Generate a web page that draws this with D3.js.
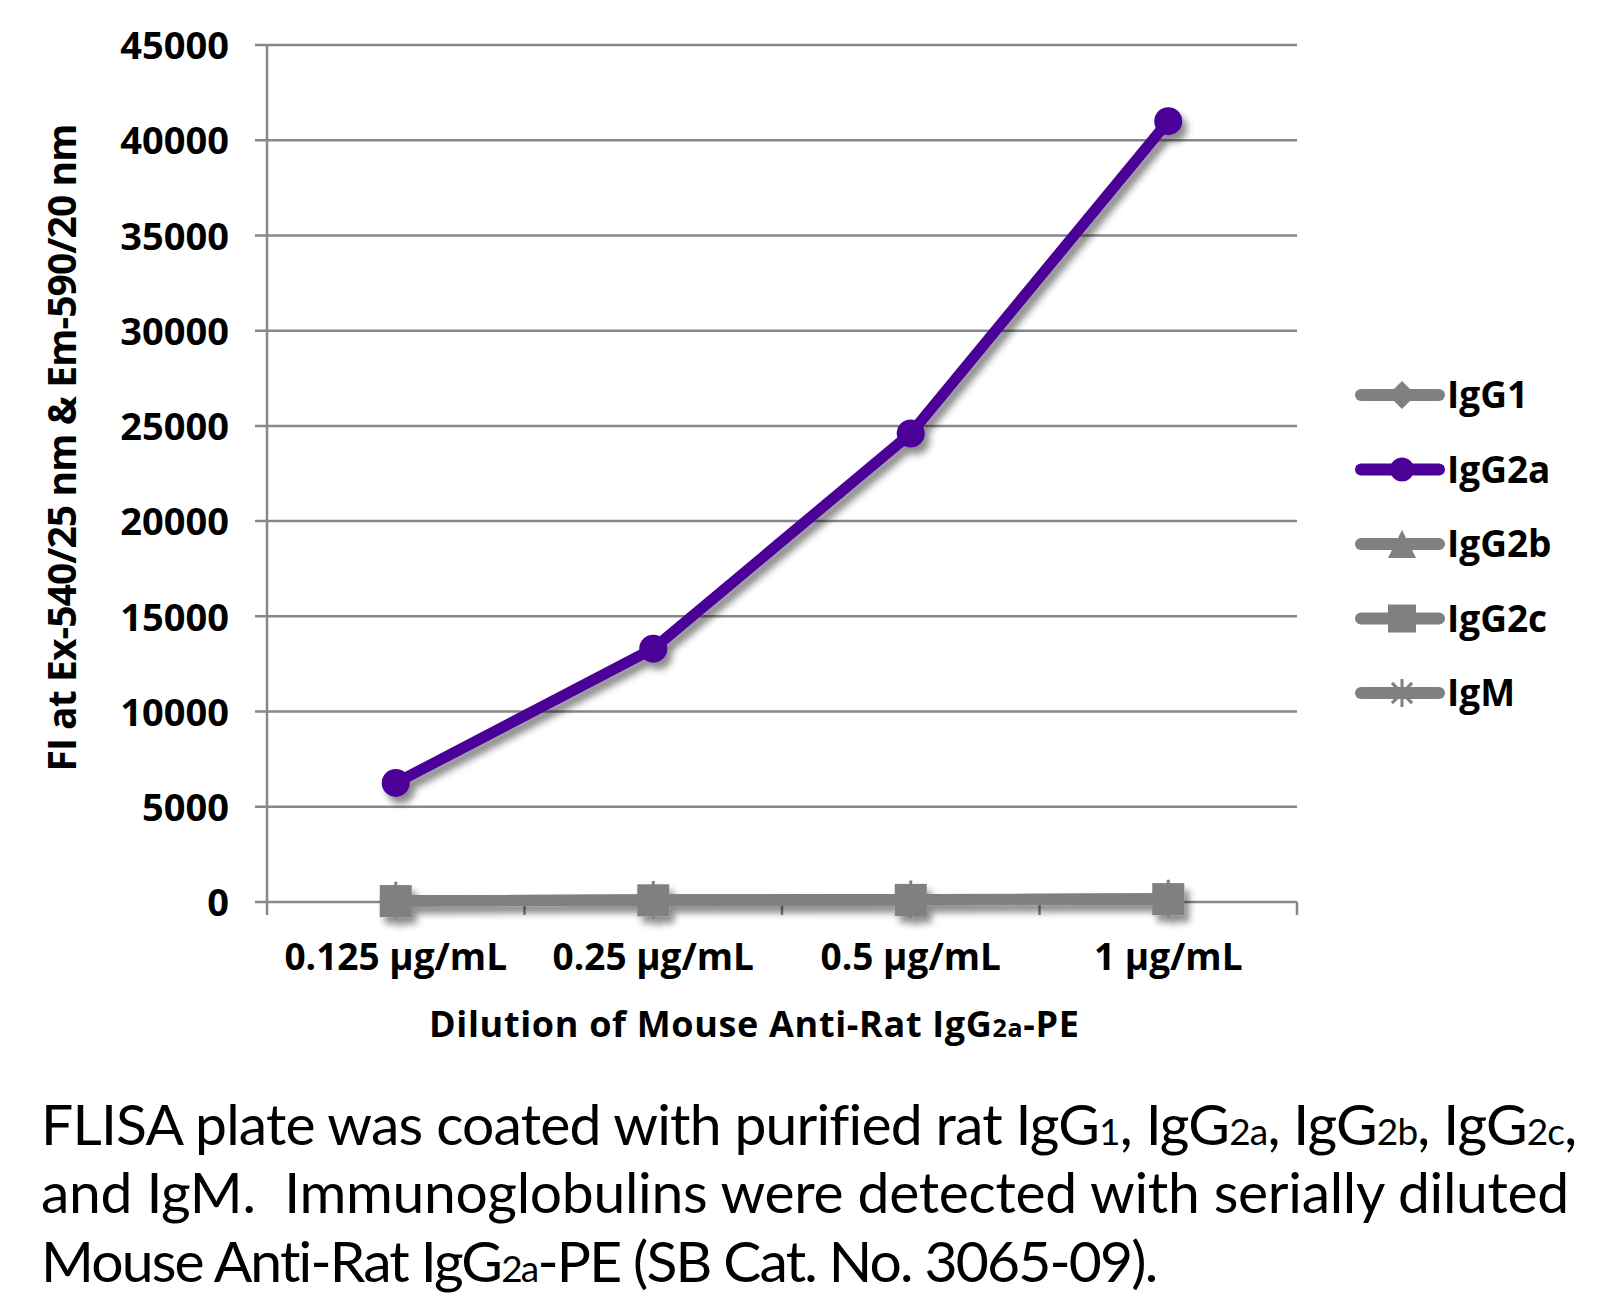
<!DOCTYPE html>
<html><head><meta charset="utf-8">
<script src="https://cdn.jsdelivr.net/npm/d3@7"></script>
<style>
html,body{margin:0;padding:0;background:#fff;}
svg{display:block;}
</style></head>
<body>
<svg id="chart" width="1600" height="1306"></svg>
<script>
// ---- data ----
const categories = ["0.125 µg/mL", "0.25 µg/mL", "0.5 µg/mL", "1 µg/mL"];
const seriesNames = ["IgG1", "IgG2a", "IgG2b", "IgG2c", "IgM"];
const igG1  = [60, 100, 120, 160];
const igG2a = [6250, 13300, 24600, 41000];
const igG2b = [60, 100, 120, 160];
const igG2c = [50, 90, 110, 150];
const igM   = [60, 110, 130, 170];
const yTicks = [0, 5000, 10000, 15000, 20000, 25000, 30000, 35000, 40000, 45000];
const seriesValues = [igG1, igG2a, igG2b, igG2c, igM];
const seriesColors = ["#808080", "#4B0098", "#808080", "#808080", "#808080"];
const seriesMarkers = ["diamond", "circle", "triangle", "square", "star"];

const svg = d3.select("#chart");
const FONT = "'Open Sans', 'Liberation Sans', sans-serif";
const CAPFONT = "Lato, 'Open Sans', sans-serif";

const plotL = 267, plotR = 1297, plotT = 45, plotB = 902;
const x = d3.scaleBand().domain(categories).range([plotL, plotR]);
const y = d3.scaleLinear().domain([0, 45000]).range([plotB, plotT]);
const cx = c => x(c) + x.bandwidth() / 2;

// shadow filter
const defs = svg.append("defs");
const f = defs.append("filter").attr("id", "shadow").attr("x", "-20%").attr("y", "-20%").attr("width", "140%").attr("height", "140%");
f.append("feDropShadow").attr("dx", 5).attr("dy", 7).attr("stdDeviation", 3.5)
  .attr("flood-color", "#000").attr("flood-opacity", 0.45);

// gridlines
const gridColor = "#878787";
svg.append("g").selectAll("line").data(yTicks).join("line")
  .attr("x1", plotL - 12).attr("x2", plotR)
  .attr("y1", d => y(d)).attr("y2", d => y(d))
  .attr("stroke", gridColor).attr("stroke-width", 2.5);

// y axis line
svg.append("line").attr("x1", plotL).attr("x2", plotL).attr("y1", plotT).attr("y2", plotB + 13)
  .attr("stroke", gridColor).attr("stroke-width", 2.5);

// x tick marks at band boundaries
const bounds = categories.map(c => x(c)).concat([plotR]).slice(1);
svg.append("g").selectAll("line").data(bounds).join("line")
  .attr("x1", d => d).attr("x2", d => d).attr("y1", plotB).attr("y2", plotB + 13)
  .attr("stroke", gridColor).attr("stroke-width", 2.5);

// y axis labels via d3 axis
const yAxis = svg.append("g").attr("transform", `translate(${plotL - 38},0)`)
  .call(d3.axisLeft(y).tickValues(yTicks).tickSize(0).tickPadding(0).tickFormat(d3.format("d")));
yAxis.select(".domain").remove();
yAxis.selectAll("text").attr("font-family", FONT).attr("font-weight", "bold")
  .attr("font-size", 38).attr("fill", "#000").attr("dy", "0.36em");

// x axis labels via d3 axis
const xAxis = svg.append("g").attr("transform", `translate(0,${plotB})`)
  .call(d3.axisBottom(x).tickSize(0).tickPadding(0));
xAxis.select(".domain").remove();
xAxis.selectAll("text").attr("font-family", FONT).attr("font-weight", "bold")
  .attr("font-size", 37).attr("fill", "#000").attr("y", 68).attr("dy", 0);

// marker drawing
function drawMarker(g, type, px, py, size, color) {
  const h = size / 2;
  if (type === "circle") {
    g.append("circle").attr("cx", px).attr("cy", py).attr("r", h).attr("fill", color);
  } else if (type === "square") {
    g.append("rect").attr("x", px - h).attr("y", py - h).attr("width", size).attr("height", size).attr("fill", color);
  } else if (type === "diamond") {
    g.append("path").attr("d", `M${px},${py - h}L${px + h},${py}L${px},${py + h}L${px - h},${py}Z`).attr("fill", color);
  } else if (type === "triangle") {
    g.append("path").attr("d", `M${px},${py - h}L${px + h},${py + h}L${px - h},${py + h}Z`).attr("fill", color);
  } else if (type === "star") {
    const s = h * 0.72;
    g.append("path").attr("d", `M${px - s},${py - s}L${px + s},${py + s}M${px - s},${py + s}L${px + s},${py - s}M${px},${py - h}L${px},${py + h}`)
      .attr("stroke", color).attr("stroke-width", 3).attr("fill", "none");
  }
}

// series (one shadowed group)
const line = d3.line().x((d, i) => cx(categories[i])).y(d => y(d));
const plotG = svg.append("g").attr("filter", "url(#shadow)");
const drawOrder = [0, 2, 3, 4, 1];
drawOrder.forEach(si => {
  const g = plotG.append("g");
  g.append("path").datum(seriesValues[si]).attr("d", line)
    .attr("fill", "none").attr("stroke", seriesColors[si]).attr("stroke-width", 11)
    .attr("stroke-linejoin", "round").attr("stroke-linecap", "round");
  const m = seriesMarkers[si];
  const msize = m === "circle" ? 28 : (m === "star" ? 38 : 32);
  seriesValues[si].forEach((v, i) => drawMarker(g, m, cx(categories[i]), y(v), msize, seriesColors[si]));
});

// legend
const legY = d3.scalePoint().domain(seriesNames).range([395, 693]);
seriesNames.forEach((n, si) => {
  const ly = legY(n);
  const g = svg.append("g");
  g.append("line").attr("x1", 1361).attr("x2", 1439).attr("y1", ly).attr("y2", ly)
    .attr("stroke", seriesColors[si]).attr("stroke-width", 12).attr("stroke-linecap", "round");
  drawMarker(g, seriesMarkers[si], 1402, ly, seriesMarkers[si] === "circle" ? 24 : 28, seriesColors[si]);
  g.append("text").attr("x", 1447).attr("y", ly).attr("dy", "0.36em")
    .attr("font-family", FONT).attr("font-weight", "bold").attr("font-size", 37).attr("fill", "#000").text(n);
});

// helper: fit text width via letter-spacing (keeps tspans in sequence)
function fitWidth(t, target) {
  const node = t.node();
  const nat = node.getComputedTextLength();
  const n = node.textContent.length;
  const ls = (target - nat) / Math.max(1, n - 1);
  t.attr("letter-spacing", ls.toFixed(2));
}

// y axis title
const yt = svg.append("text").attr("transform", "translate(76,448) rotate(-90)")
  .attr("text-anchor", "middle").attr("font-family", FONT).attr("font-weight", "bold")
  .attr("font-size", 39).attr("fill", "#000")
  .text("FI at Ex-540/25 nm & Em-590/20 nm");
fitWidth(yt, 648);

// x axis title
const xt = svg.append("text").attr("x", 429).attr("y", 1037)
  .attr("font-family", FONT).attr("font-weight", "bold").attr("font-size", 36).attr("fill", "#000");
xt.append("tspan").text("Dilution of Mouse Anti-Rat IgG");
xt.append("tspan").attr("font-size", 25).text("2a");
xt.append("tspan").text("-PE");
fitWidth(xt, 650);

// caption
const capLines = [
  { y: 1145, w: 1536, parts: [["FLISA plate was coated with purified rat IgG", 0], ["1", 1], [", IgG", 0], ["2a", 1], [", IgG", 0], ["2b", 1], [", IgG", 0], ["2c", 1], [",", 0]] },
  { y: 1213, w: 1528, parts: [["and IgM.\u00a0 Immunoglobulins were detected with serially diluted", 0]] },
  { y: 1282, w: 1117, parts: [["Mouse Anti-Rat IgG", 0], ["2a", 1], ["-PE (SB Cat. No. 3065-09).", 0]] }
];
capLines.forEach(l => {
  const t = svg.append("text").attr("x", 41).attr("y", l.y)
    .attr("font-family", CAPFONT).attr("font-size", 57).attr("fill", "#000")
    .style("font-variant-ligatures", "no-common-ligatures");
  l.parts.forEach(([s, sub]) => {
    const ts = t.append("tspan").text(s);
    if (sub) ts.attr("font-size", 37);
  });
  fitWidth(t, l.w);
});
</script>
</body></html>
